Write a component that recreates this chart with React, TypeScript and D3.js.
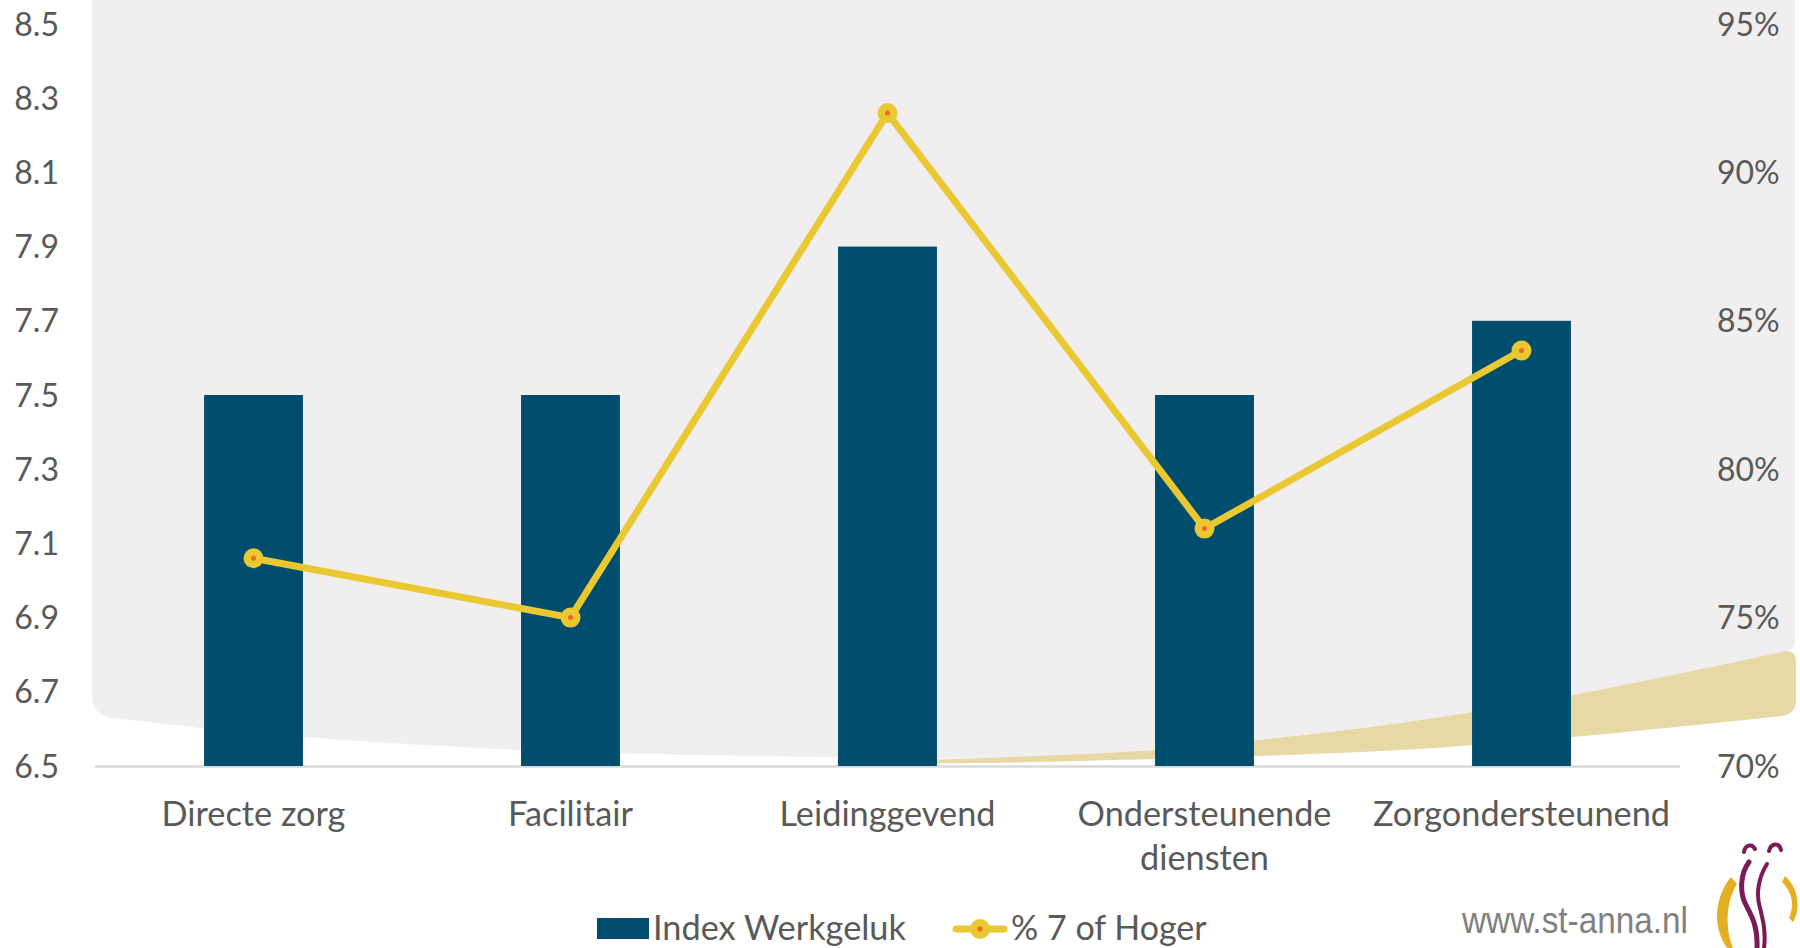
import React from "react";
import * as d3 from "d3";

const categories: string[][] = [
  ["Directe zorg"],
  ["Facilitair"],
  ["Leidinggevend"],
  ["Ondersteunende", "diensten"],
  ["Zorgondersteunend"],
];
const indexWerkgeluk: number[] = [7.5, 7.5, 7.9, 7.5, 7.7];
const pctZevenOfHoger: number[] = [0.77, 0.75, 0.92, 0.78, 0.84];
const leftTicks: number[] = [6.5, 6.7, 6.9, 7.1, 7.3, 7.5, 7.7, 7.9, 8.1, 8.3, 8.5];
const rightTicks: number[] = [0.7, 0.75, 0.8, 0.85, 0.9, 0.95];
const seriesNames: string[] = ["Index Werkgeluk", "% 7 of Hoger"];

const W = 1800;
const H = 948;
const FONT = "Lato, 'Open Sans', sans-serif";
const TXT = "#595959";
const BAR = "#004d6d";
const LINE = "#e9c832";
const DOT = "#f2652a";

export default function App() {
  const keys = categories.map((c) => c.join(" "));
  const x = d3.scaleBand<string>().domain(keys).range([95, 1680]).padding(0);
  const yL = d3.scaleLinear().domain([6.5, 8.5]).range([766, 24]);
  const yR = d3.scaleLinear().domain([0.7, 0.95]).range([766, 24]);
  const bw = x.bandwidth() * 0.312;
  const cx = (i: number) => (x(keys[i]) as number) + x.bandwidth() / 2;

  const linePath = d3
    .line<number>()
    .x((_, i) => cx(i))
    .y((d) => yR(d))(pctZevenOfHoger) as string;

  // decorative background shapes
  const smooth = d3.line<[number, number]>().curve(d3.curveCatmullRom.alpha(0.5));
  const grayBottom: [number, number][] = [
    [1795, 645], [1790, 650], [1572, 695], [1400, 723], [1257, 740], [1155, 750],
    [983, 758], [760, 756], [520, 750], [303, 737], [203, 728], [113, 718],
  ];
  const grayPath =
    "M92,0 L1795,0 L1795,645 " +
    (smooth(grayBottom) as string).replace(/^M[^C]*/, "") +
    " Q92,716 92,695 Z";
  const goldTop: [number, number][] = [
    [880, 761], [983, 758], [1155, 750], [1257, 740], [1400, 723], [1572, 695], [1782, 652],
  ];
  const goldBottom: [number, number][] = [
    [1782, 716], [1572, 737], [1400, 750], [1257, 756], [1155, 759], [983, 763], [880, 763],
  ];
  const goldPath =
    (smooth(goldTop) as string) +
    " Q1796,648 1796,662 L1796,700 Q1796,714 1782,716 " +
    (smooth(goldBottom) as string).replace(/^M[^C]*/, "") +
    " Z";

  return (
    <svg
      width={W}
      height={H}
      viewBox={`0 0 ${W} ${H}`}
      style={{ position: "absolute", left: 0, top: 0, display: "block", background: "#ffffff" }}
    >
      <path d={grayPath} fill="#f0eeef" />
      <path d={goldPath} fill="#e6d9a6" />

      {/* axis line */}
      <line x1={95} x2={1680} y1={766.5} y2={766.5} stroke="#d9d9d9" strokeWidth={2.5} />

      {/* bars */}
      {indexWerkgeluk.map((v, i) => (
        <rect key={i} x={cx(i) - bw / 2} y={yL(v)} width={bw} height={yL(6.5) - yL(v)} fill={BAR} />
      ))}

      {/* line */}
      <path d={linePath} fill="none" stroke={LINE} strokeWidth={7} strokeLinejoin="round" />
      {pctZevenOfHoger.map((v, i) => (
        <g key={i}>
          <circle cx={cx(i)} cy={yR(v)} r={10} fill={LINE} />
          <circle cx={cx(i)} cy={yR(v)} r={2.5} fill={DOT} />
        </g>
      ))}

      {/* left axis labels */}
      {leftTicks.map((t) => (
        <text key={t} x={59} y={yL(t)} dy="0.36em" textAnchor="end" fontFamily={FONT} fontSize={32} fill={TXT}>
          {t.toFixed(1)}
        </text>
      ))}
      {/* right axis labels */}
      {rightTicks.map((t) => (
        <text key={t} x={1717} y={yR(t)} dy="0.36em" textAnchor="start" fontFamily={FONT} fontSize={32} fill={TXT}>
          {d3.format(".0%")(t)}
        </text>
      ))}

      {/* category labels */}
      {categories.map((lines, i) => (
        <text key={i} x={cx(i)} y={826} textAnchor="middle" fontFamily={FONT} fontSize={34.3} fill={TXT}>
          {lines.map((l, j) => (
            <tspan key={j} x={cx(i)} dy={j === 0 ? 0 : 44}>
              {l}
            </tspan>
          ))}
        </text>
      ))}

      {/* legend */}
      <rect x={597} y={918} width={52} height={21} fill={BAR} />
      <text x={653} y={940} fontFamily={FONT} fontSize={34.3} fill={TXT}>
        {seriesNames[0]}
      </text>
      <line x1={956} x2={1004} y1={929} y2={929} stroke={LINE} strokeWidth={7} strokeLinecap="round" />
      <circle cx={980} cy={929} r={10} fill={LINE} />
      <circle cx={980} cy={929} r={2.5} fill={DOT} />
      <text x={1011} y={940} fontFamily={FONT} fontSize={34} fill={TXT}>
        {seriesNames[1]}
      </text>

      {/* logo */}
      <text
        x={1462}
        y={933}
        fontFamily="'Liberation Sans Narrow', 'Liberation Sans', sans-serif"
        fontSize={36}
        fill="#808080"
        textLength={226}
        lengthAdjust="spacingAndGlyphs"
      >
        www.st-anna.nl
      </text>
      <path d="M1731,877 C1716,895 1711,925 1727,948 L1733,948 C1724,925 1727,900 1737,884 Z" fill="#e4b022" />
      <path d="M1785,876 C1799,888 1801,910 1793,922 L1789,918 C1795,905 1792,892 1782,882 Z" fill="#e4b022" />
      <path d="M1744,852 C1745,845 1752,843 1755,849" fill="none" stroke="#7b1a56" strokeWidth={4} strokeLinecap="round" />
      <path d="M1769,851 C1771,843 1779,842 1781,850" fill="none" stroke="#7b1a56" strokeWidth={4} strokeLinecap="round" />
      <path d="M1749,862 C1740,874 1740,892 1745,903 C1751,915 1758,925 1757,948" fill="none" stroke="#7b1a56" strokeWidth={5} strokeLinecap="round" />
      <path d="M1767,864 C1758,878 1756,895 1760,908 C1763,920 1766,932 1764,948" fill="none" stroke="#7b1a56" strokeWidth={4} strokeLinecap="round" />
    </svg>
  );
}
